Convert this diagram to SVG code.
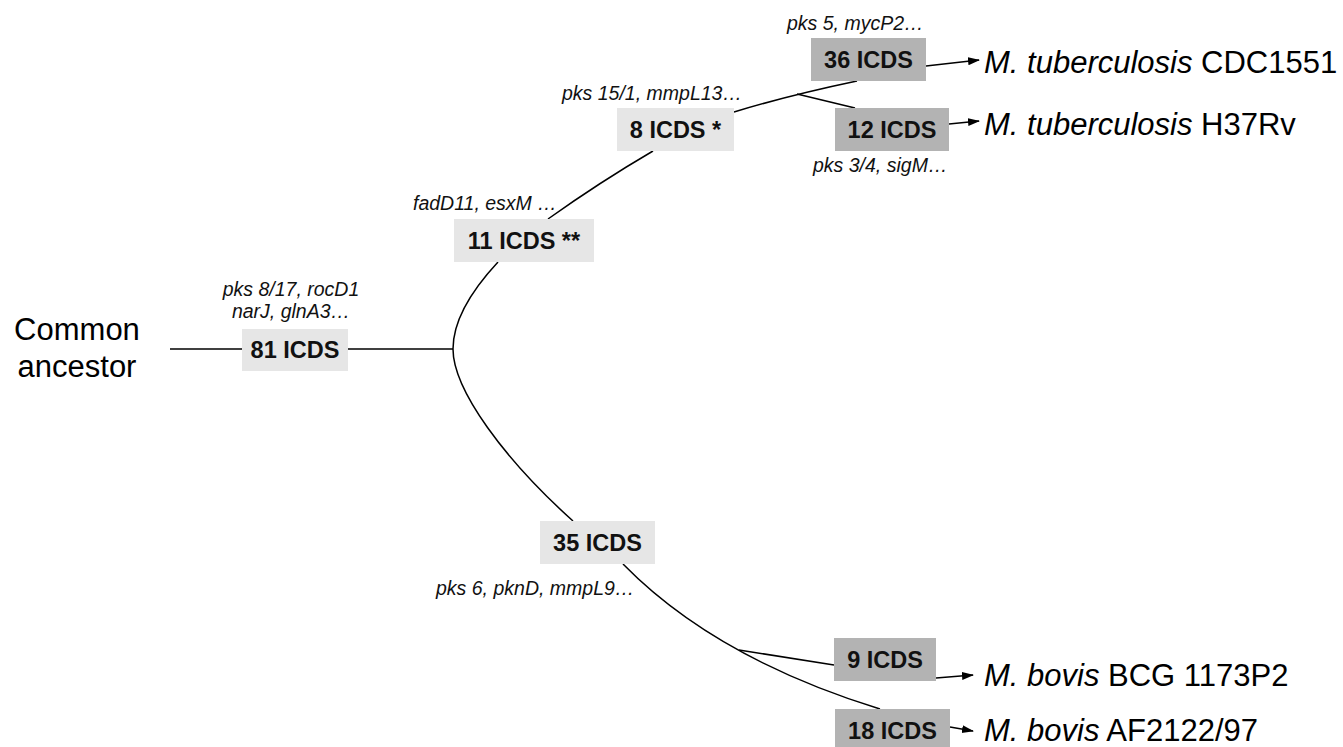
<svg xmlns="http://www.w3.org/2000/svg" width="1343" height="747" viewBox="0 0 1343 747">
<style>
.bg{fill:#ffffff}
.light{fill:#e6e6e6}
.dark{fill:#b3b3b3}
.lbl{font-family:"Liberation Sans",Arial,Helvetica,sans-serif;font-weight:bold;font-size:23.5px;fill:#111;text-anchor:middle}
.gene{font-family:"Liberation Sans",Arial,Helvetica,sans-serif;font-style:italic;font-size:19.5px;fill:#111}
.big{font-family:"Liberation Sans",Arial,Helvetica,sans-serif;font-size:31px;fill:#000}
.edge{fill:none;stroke:#000;stroke-width:1.5}
.arr{fill:none;stroke:#000;stroke-width:1.5;marker-end:url(#ah)}
</style>
<defs>
<marker id="ah" markerWidth="12" markerHeight="10" refX="11" refY="5" orient="auto" markerUnits="userSpaceOnUse">
<path d="M0,1 L12,5 L0,9 Z" fill="#000"/>
</marker>
</defs>
<rect class="bg" x="0" y="0" width="1343" height="747"/>
<g id="connectors">
<path class="edge" d="M170,349 L242,349"/>
<path class="edge" d="M348,349 L453,349"/>
<path class="edge" d="M498,262 C472,290 453,320 453,349 C453,390 505,460 573,521"/>
<path class="edge" d="M548,219 Q600,182 653,151"/>
<path class="edge" d="M734,112 Q790,95 857,81"/>
<path class="edge" d="M797,94 L855,108"/>
<path class="arr" d="M926,66 L979,60"/>
<path class="arr" d="M949,124 L979,121"/>
<path class="edge" d="M623,564 Q715,658 880,709"/>
<path class="edge" d="M739,650 L834,665"/>
<path class="arr" d="M936,678 L973,675"/>
<path class="arr" d="M950,727 L973,731"/>
</g>
<g id="ancestor">
<text class="big" x="77" y="340" text-anchor="middle">Common</text>
<text class="big" x="77" y="377" text-anchor="middle">ancestor</text>
</g>
<g id="n81">
<rect class="light" x="242" y="329" width="106" height="42"/>
<text class="lbl" x="295" y="358">81 ICDS</text>
<text class="gene" x="291" y="296" text-anchor="middle">pks 8/17, rocD1</text>
<text class="gene" x="291" y="318" text-anchor="middle">narJ, glnA3…</text>
</g>
<g id="n11">
<rect class="light" x="454" y="219" width="140" height="43"/>
<text class="lbl" x="524" y="249">11 ICDS **</text>
<text class="gene" x="413" y="210">fadD11, esxM …</text>
</g>
<g id="n8">
<rect class="light" x="617" y="108" width="117" height="43"/>
<text class="lbl" x="675.5" y="138">8 ICDS *</text>
<text class="gene" x="562" y="100">pks 15/1, mmpL13…</text>
</g>
<g id="n36">
<rect class="dark" x="811" y="38" width="115" height="43"/>
<text class="lbl" x="868.5" y="68">36 ICDS</text>
<text class="gene" x="787" y="30">pks 5, mycP2…</text>
</g>
<g id="n12">
<rect class="dark" x="835" y="108" width="114" height="43"/>
<text class="lbl" x="892" y="138">12 ICDS</text>
<text class="gene" x="813" y="172">pks 3/4, sigM…</text>
</g>
<g id="n35">
<rect class="light" x="540" y="521" width="115" height="43"/>
<text class="lbl" x="597.5" y="551">35 ICDS</text>
<text class="gene" x="436" y="595">pks 6, pknD, mmpL9…</text>
</g>
<g id="n9">
<rect class="dark" x="834" y="638" width="102" height="43"/>
<text class="lbl" x="885" y="668">9 ICDS</text>
</g>
<g id="n18">
<rect class="dark" x="835" y="709" width="115" height="43"/>
<text class="lbl" x="892.5" y="739">18 ICDS</text>
</g>
<g id="tb_cdc">
<text class="big" x="984" y="73"><tspan font-style="italic">M. tuberculosis</tspan> CDC1551</text>
</g>
<g id="tb_h37">
<text class="big" x="984" y="135"><tspan font-style="italic">M. tuberculosis</tspan> H37Rv</text>
</g>
<g id="bovis_bcg">
<text class="big" x="984" y="686"><tspan font-style="italic">M. bovis</tspan> BCG 1173P2</text>
</g>
<g id="bovis_af">
<text class="big" x="984" y="741"><tspan font-style="italic">M. bovis</tspan> AF2122/97</text>
</g>
</svg>
